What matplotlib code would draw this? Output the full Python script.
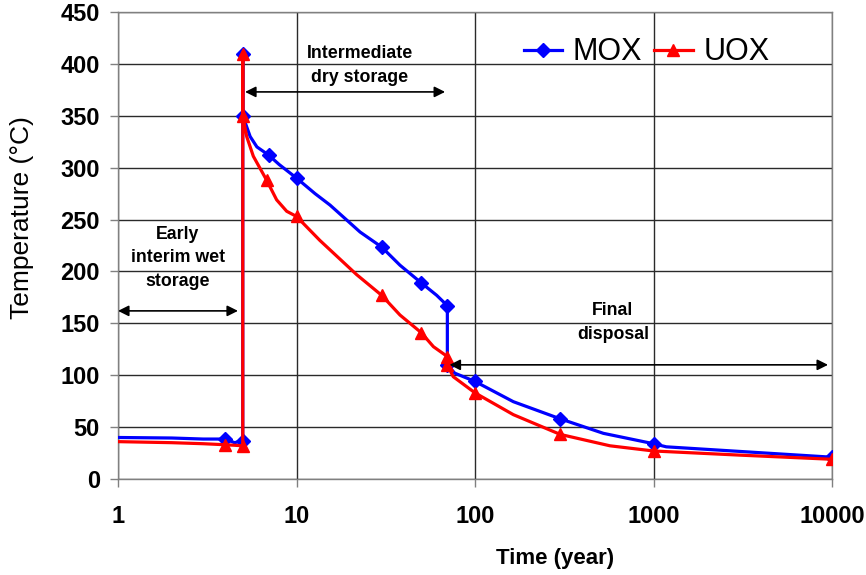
import matplotlib
matplotlib.use("Agg")
import matplotlib.pyplot as plt

plt.rcParams['font.family'] = ['Liberation Sans', 'DejaVu Sans']

# ---- data ----
mox_time = [1, 2, 3, 4, 4.5, 5, 5, 5, 5.5, 6, 7, 8, 10, 12.7, 15.4, 18.7, 22.7, 30,
            38, 50, 61, 70, 70, 77, 100, 164, 300, 524, 1000, 1180, 10000]
mox_temp = [40, 39.5, 38.5, 38.5, 35, 37, 410, 350, 330, 320, 312, 303, 290, 275, 264,
            251, 238, 223.5, 206, 189, 177, 167, 110, 102, 94, 74.5, 58, 44, 34, 31, 21]
mox_marked = [0, 0, 0, 1, 0, 1, 1, 1, 0, 0, 1, 0, 1, 0, 0, 0, 0, 1,
              0, 1, 0, 1, 1, 0, 1, 0, 1, 0, 1, 0, 1]

uox_time = [1, 2, 3, 4, 4.5, 5, 5, 5, 5.26, 5.73, 6.8, 7.74, 8.81, 10, 13.5, 21.7, 30,
            38, 50, 58.5, 70, 70, 75.5, 100, 164, 300, 570, 1000, 3050, 10000]
uox_temp = [36, 35, 34, 33, 32.5, 32, 410, 350, 330, 311, 288, 269, 258, 253, 230, 197,
            177, 158, 141, 127.5, 118, 110, 98.6, 83, 62, 43, 32, 27, 23, 19]
uox_marked = [0, 0, 0, 1, 0, 1, 1, 1, 0, 0, 1, 0, 0, 1, 0, 0, 1,
              0, 1, 0, 1, 1, 0, 1, 0, 1, 0, 1, 0, 1]

x_ticks = [1, 10, 100, 1000, 10000]
x_tick_labels = ["1", "10", "100", "1000", "10000"]
y_ticks = list(range(0, 451, 50))

phases = [
    ("Early\ninterim wet\nstorage", 2.17, 213, 1.0, 4.7, 162),
    ("Intermediate\ndry storage", 22.7, 398.5, 5.15, 68, 373),
    ("Final\ndisposal", 593, 151, 72, 9500, 110),
]

# ---- figure ----
fig = plt.figure(figsize=(8.66, 5.75), dpi=100)
ax = fig.add_axes([118/866, 1 - 479/575, (832-118)/866, (479-12)/575])

ax.set_xscale('log')
ax.set_xlim(1, 10000)
ax.set_ylim(0, 450)

ax.plot(mox_time, mox_temp, color='#0000ff', lw=2.3, marker='D', markersize=7,
        markevery=[i for i, m in enumerate(mox_marked) if m], label='MOX', zorder=3)
ax.plot(uox_time, uox_temp, color='#ff0000', lw=2.3, marker='^', markersize=9,
        markevery=[i for i, m in enumerate(uox_marked) if m], label='UOX', zorder=4)

ax.set_xticks(x_ticks)
ax.set_xticklabels(x_tick_labels)
ax.minorticks_off()
ax.set_yticks(y_ticks)
ax.grid(True, which='major', color='#2a2a2a', lw=1.0, zorder=0)
ax.set_axisbelow(True)
for s in ax.spines.values():
    s.set_color('#808080')
    s.set_linewidth(1.0)
ax.tick_params(axis='both', direction='out', length=6, color='#808080', width=1)
ax.tick_params(axis='y', pad=7)
ax.tick_params(axis='x', pad=13)
for lab in ax.get_xticklabels() + ax.get_yticklabels():
    lab.set_fontsize(17)
    lab.set_fontweight('bold')

ax.set_ylabel("Temperature (°C)", fontsize=19)
ax.yaxis.set_label_coords(-0.117, 0.559)
ax.set_xlabel("Time (year)", fontsize=16, fontweight='bold')
ax.xaxis.set_label_coords(0.612, -0.148)

for text, tx, ty, x0, x1, ya in phases:
    ax.text(tx, ty, text, ha='center', va='center', fontsize=12.8, fontweight='bold',
            linespacing=1.5, zorder=5)
    ax.annotate('', xy=(x1, ya), xytext=(x0, ya),
                arrowprops=dict(arrowstyle='<|-|>', color='black', lw=1.2,
                                mutation_scale=16, shrinkA=0, shrinkB=0), zorder=5)

leg = ax.legend(loc='upper right', bbox_to_anchor=(0.938, 0.985), ncol=2, frameon=False,
                fontsize=22, handlelength=1.25, handletextpad=0.35, columnspacing=0.4,
                borderaxespad=0.2)

fig.savefig("out.png", dpi=100)
